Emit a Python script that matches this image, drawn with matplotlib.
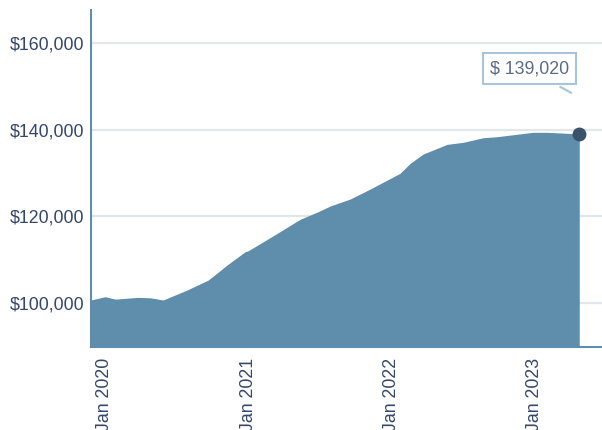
import matplotlib.pyplot as plt
import matplotlib.dates as mdates
from matplotlib.ticker import FuncFormatter
from matplotlib.transforms import offset_copy
import pandas as pd

plt.rcParams['font.family'] = ['Liberation Sans', 'DejaVu Sans']

dates = ['2019-11-27', '2020-01-02', '2020-01-28', '2020-03-26', '2020-04-26',
         '2020-05-29', '2020-07-29', '2020-09-21', '2020-11-08', '2020-12-24',
         '2021-01-01', '2021-03-16', '2021-05-13', '2021-06-28', '2021-07-29',
         '2021-09-18', '2021-11-08', '2022-01-23', '2022-02-18', '2022-03-23',
         '2022-05-23', '2022-07-03', '2022-08-23', '2022-09-27', '2022-12-28',
         '2023-02-02', '2023-03-25', '2023-04-25']
values = [100700, 101450, 100900, 101300, 101200,
          100700, 103000, 105300, 108770, 111830,
          112060, 116080, 119300, 121060, 122380,
          124000, 126300, 129920, 132230, 134370,
          136600, 137070, 138130, 138360, 139380,
          139380, 139150, 139020]
y_ticks = [100000, 120000, 140000, 160000]
x_ticks = ['2020-01-01', '2021-01-01', '2022-01-01', '2023-01-01']
x_tick_labels = ['Jan 2020', 'Jan 2021', 'Jan 2022', 'Jan 2023']

dates = pd.to_datetime(dates)

fill_color = '#5f8dac'
text_color = '#34476b'

fig = plt.figure(figsize=(6.02, 4.30), dpi=100)
ax = fig.add_axes([91 / 602, 1 - 347 / 430, 1 - 91 / 602, (347 - 10) / 430])

ax.fill_between(dates, values, 90000, color=fill_color, lw=0, zorder=2)
ax.plot(dates[-1], values[-1], 'o', color='#3a536b', markersize=9, zorder=4)

ax.set_ylim(89850, 167600)
ax.set_xlim(dates[0], pd.Timestamp('2023-06-22'))

ax.set_yticks(y_ticks)
ax.yaxis.set_major_formatter(FuncFormatter(lambda v, p: f'${v:,.0f}'))
ax.set_xticks(pd.to_datetime(x_ticks))
ax.set_xticklabels(x_tick_labels, rotation=90)
ax.tick_params(length=0, labelsize=12.8, labelcolor=text_color)
ax.tick_params(axis='y', pad=5)
ax.tick_params(axis='x', pad=8)

ax.grid(axis='y', color='#e3e6ea', lw=1.6)
ax.set_axisbelow(True)
for s in ['top', 'right']:
    ax.spines[s].set_visible(False)
ax.spines['left'].set_color(fill_color)
ax.spines['left'].set_linewidth(1.5)
ax.spines['bottom'].set_color(fill_color)
ax.spines['bottom'].set_linewidth(1.5)

last_x = mdates.date2num(dates[-1])
last_y = values[-1]
t_box = offset_copy(ax.transData, fig=fig, x=-50, y=65, units='dots')
ax.text(last_x, last_y, f'$ {last_y:,}', transform=t_box, ha='center', va='center',
        fontsize=12.8, color='#5b6b85',
        bbox=dict(boxstyle='square,pad=0.4', fc='white', ec='#a9c3d8', lw=1.5), zorder=5)
t_a = offset_copy(ax.transData, fig=fig, x=-19, y=47, units='dots')
t_b = offset_copy(ax.transData, fig=fig, x=-8, y=41, units='dots')
ax.annotate('', xy=(last_x, last_y), xycoords=t_b, xytext=(last_x, last_y), textcoords=t_a,
            arrowprops=dict(arrowstyle='-', color='#a9c3d8', lw=1.5, shrinkA=0, shrinkB=0))

fig.savefig('out.png', dpi=100)
